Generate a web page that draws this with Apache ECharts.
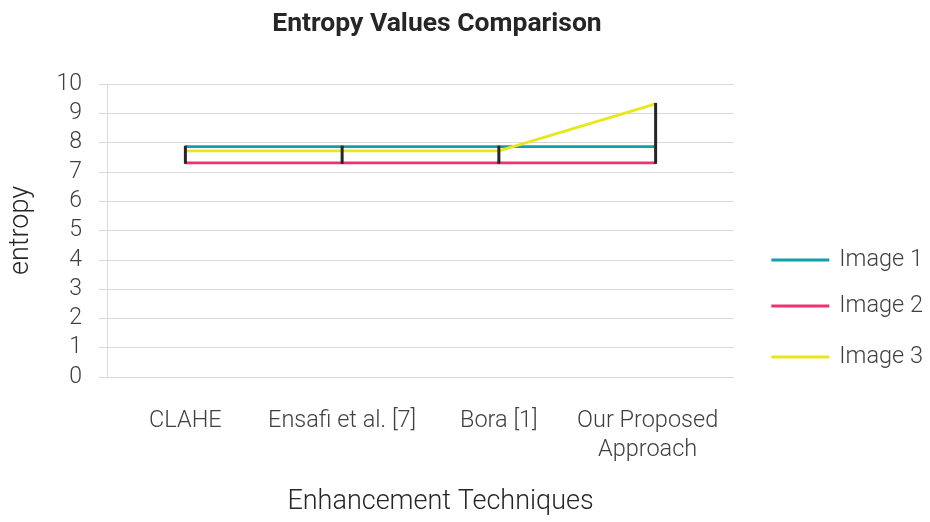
<!DOCTYPE html>
<html>
<head>
  <meta charset="UTF-8">
  <title>Entropy Values Comparison</title>
  <script src="https://cdn.jsdelivr.net/npm/echarts/dist/echarts.min.js"></script>
</head>
<body style="margin: 0; background: #fff;">
  <div id="main" style="width: 930px; height: 522px;"></div>
  <script type="text/javascript">
    var categories = ['CLAHE', 'Ensafi et al. [7]', 'Bora [1]', 'Our Proposed\nApproach'];
    var image1 = [7.86, 7.86, 7.86, 7.86];
    var image2 = [7.31, 7.31, 7.31, 7.31];
    var image3 = [7.72, 7.72, 7.72, 9.32];
    var yTicks = [0, 10, 1]; // min, max, interval

    var myChart = echarts.init(document.getElementById('main'));
    var font = 'Roboto, sans-serif';

    // high-low lines: min and max of the three series at each category
    var highLow = categories.map(function (c, i) {
      var v = [image1[i], image2[i], image3[i]];
      return [i, Math.min.apply(null, v), Math.max.apply(null, v)];
    });

    // the wrapped last label sits a bit left in the original
    var xData = categories.map(function (c, i) {
      return i === categories.length - 1 ? { value: c, textStyle: { padding: [0, 16, 0, 0] } } : c;
    });

    function legendAt(name, top) {
      return {
        data: [name],
        right: 2,
        top: top,
        orient: 'vertical',
        icon: 'rect',
        itemWidth: 58,
        itemHeight: 3,
        textStyle: {
          fontFamily: font, fontSize: 23.5, fontWeight: 300, color: '#404040',
          padding: [0, 0, 0, 5]
        }
      };
    }

    var option = {
      backgroundColor: '#ffffff',
      animation: false,
      title: {
        text: 'Entropy Values Comparison',
        left: 432,
        textAlign: 'center',
        top: 6,
        textStyle: { fontFamily: font, fontSize: 26.5, fontWeight: 'bold', color: '#262626' }
      },
      legend: [
        legendAt('Image 1', 243),
        legendAt('Image 2', 289),
        legendAt('Image 3', 340)
      ],
      grid: {
        left: 104,
        top: 84,
        width: 630,
        height: 293
      },
      xAxis: {
        type: 'category',
        data: xData,
        boundaryGap: true,
        name: 'Enhancement Techniques',
        nameLocation: 'middle',
        nameGap: 112,
        nameTextStyle: {
          fontFamily: font, fontSize: 27, fontWeight: 300, color: '#262626',
          padding: [0, 0, 0, 40]
        },
        axisLine: { show: true, lineStyle: { color: '#d9d9d9', width: 1 } },
        axisTick: { show: false },
        axisLabel: {
          margin: 30,
          fontFamily: font,
          fontSize: 23.5,
          fontWeight: 300,
          lineHeight: 29,
          color: '#404040',
          interval: 0
        }
      },
      yAxis: {
        type: 'value',
        min: yTicks[0],
        max: yTicks[1],
        interval: yTicks[2],
        name: 'entropy',
        nameLocation: 'middle',
        nameGap: 72,
        nameTextStyle: { fontFamily: font, fontSize: 27, fontWeight: 300, color: '#262626' },
        axisLine: { show: true, lineStyle: { color: '#d9d9d9', width: 1 } },
        axisTick: { show: true, length: 8, lineStyle: { color: '#d9d9d9' } },
        splitLine: { show: true, lineStyle: { color: '#d9d9d9', width: 1 } },
        axisLabel: {
          margin: 25,
          fontFamily: font,
          fontSize: 23,
          fontWeight: 300,
          color: '#404040'
        }
      },
      series: [
        {
          name: 'High-Low',
          type: 'custom',
          data: highLow,
          z: 5,
          renderItem: function (params, api) {
            var p1 = api.coord([api.value(0), api.value(1)]);
            var p2 = api.coord([api.value(0), api.value(2)]);
            return {
              type: 'line',
              shape: { x1: p1[0], y1: p1[1] + 1, x2: p2[0], y2: p2[1] - 1 },
              style: { stroke: '#262626', lineWidth: 3 }
            };
          }
        },
        {
          name: 'Image 1',
          type: 'line',
          data: image1,
          symbol: 'none',
          color: '#12a0a8',
          lineStyle: { color: '#12a0a8', width: 2.8 }
        },
        {
          name: 'Image 2',
          type: 'line',
          data: image2,
          symbol: 'none',
          color: '#ee3272',
          lineStyle: { color: '#ee3272', width: 2.8 }
        },
        {
          name: 'Image 3',
          type: 'line',
          data: image3,
          symbol: 'none',
          color: '#e9e71c',
          lineStyle: { color: '#e9e71c', width: 2.8 }
        }
      ]
    };

    myChart.setOption(option);
  </script>
</body>
</html>
